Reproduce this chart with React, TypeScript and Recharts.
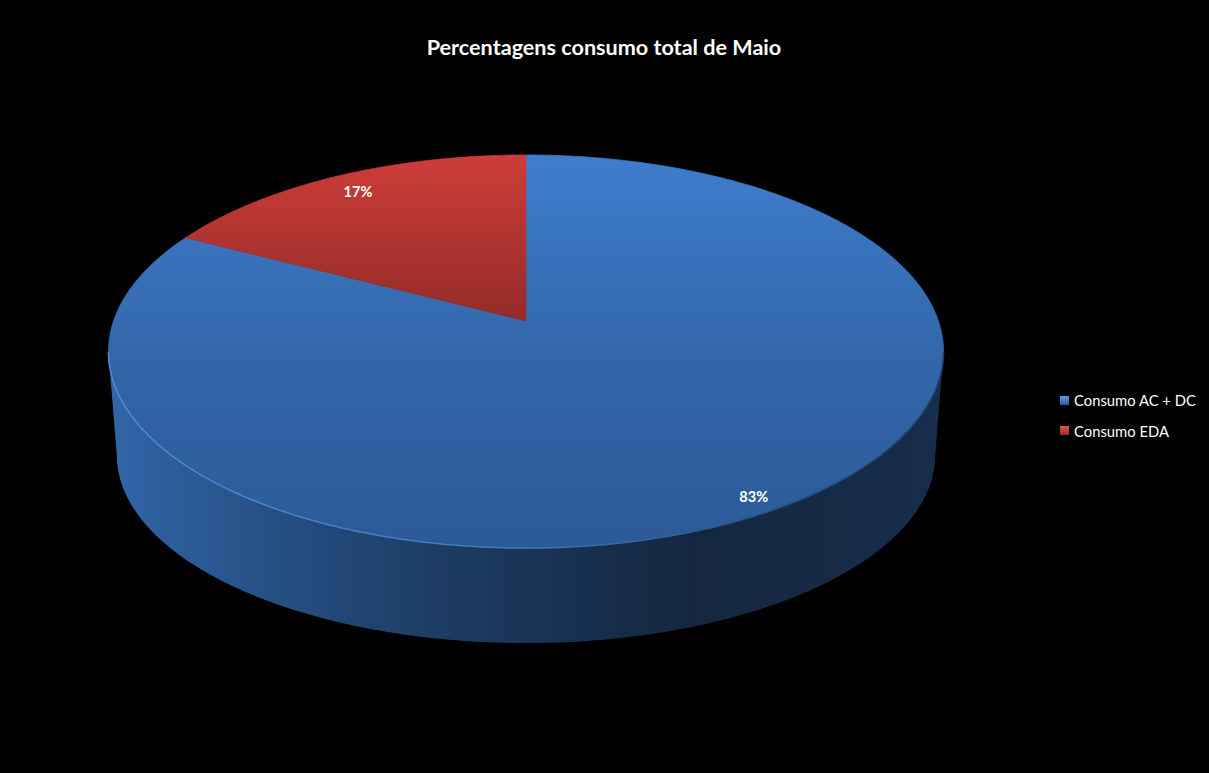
import { PieChart, Pie, Cell, Legend } from "recharts";

const categories = ["Consumo AC + DC", "Consumo EDA"];
const shares = [82.7, 17.3];
const data = categories.map((name, i) => ({ name, value: shares[i] }));

const topFills = ["url(#topBlue)", "url(#topRed)"];
const legendFills = [
  "linear-gradient(#5a9ae6, #2c5d9c)",
  "linear-gradient(#e65450, #962c29)",
];
const labelReach = [0.935, 0.88];

// perspective of the tilted disc
const TILT = 0.465;
const PERSP = -0.1552;
const FLOOR_SCALE_X = 0.98;
const FLOOR_SCALE_Y = 0.957;
const FLOOR_DROP = 104.8;

const project = (cx: number, cy: number, r: number, deg: number, k = 1) => {
  const a = (deg * Math.PI) / 180;
  const u = Math.cos(a) * k;
  const v = -Math.sin(a) * k;
  const d = 1 + PERSP * v;
  return { x: cx + (r * u) / d, y: cy + (r * TILT * v) / d };
};

const floorPoint = (cx: number, cy: number, r: number, deg: number) => {
  const a = (deg * Math.PI) / 180;
  const u = Math.cos(a);
  const v = -Math.sin(a);
  const d = 1 + PERSP * v;
  return {
    x: cx + (r * FLOOR_SCALE_X * u) / d,
    y: cy + FLOOR_DROP + (r * TILT * FLOOR_SCALE_Y * v) / d,
  };
};

const toPath = (pts: { x: number; y: number }[]) =>
  pts.map((p, i) => `${i ? "L" : "M"}${p.x.toFixed(1)} ${p.y.toFixed(1)}`).join(" ");

const DiscSlice = (props: any) => {
  const { cx, cy, outerRadius, startAngle, endAngle, fill } = props;
  const rim: { x: number; y: number }[] = [];
  const wallTop: { x: number; y: number }[] = [];
  const wallBottom: { x: number; y: number }[] = [];
  const lo = Math.min(startAngle, endAngle);
  const hi = Math.max(startAngle, endAngle);
  for (let deg = hi; deg > lo; deg -= 0.5) {
    rim.push(project(cx, cy, outerRadius, deg));
    // visible part of the side wall: the front of the disc, between its widest points
    const norm = ((deg % 360) + 360) % 360;
    if (norm >= 189 && norm <= 351) {
      wallTop.push(project(cx, cy, outerRadius, deg));
      wallBottom.push(floorPoint(cx, cy, outerRadius, deg));
    }
  }
  rim.push(project(cx, cy, outerRadius, lo));
  const top = `${toPath([{ x: cx, y: cy }, ...rim])} Z`;
  return (
    <g>
      {wallTop.length > 0 && (
        <path d={`${toPath([...wallTop, ...wallBottom.reverse()])} Z`} fill="url(#wall)" />
      )}
      <path d={top} fill={fill} stroke={fill} strokeWidth={0.7} />
      {wallTop.length > 0 && (
        <path d={toPath(wallTop)} fill="none" stroke="url(#rim)" strokeWidth={1.5} />
      )}
    </g>
  );
};

const sliceLabel = (props: any) => {
  const { cx, cy, outerRadius, midAngle, percent, index } = props;
  const p = project(cx, cy, outerRadius, midAngle, labelReach[index]);
  return (
    <text
      x={p.x}
      y={p.y}
      fill="#fff"
      textAnchor="middle"
      dominantBaseline="central"
      fontFamily="Lato"
      fontWeight={700}
      fontSize={14.6}
    >
      {`${Math.round(percent * 100)}%`}
    </text>
  );
};

const LegendList = () => (
  <div style={{ fontFamily: "Lato", fontSize: 14.8, color: "#fff" }}>
    {categories.map((name, i) => (
      <div key={name} style={{ display: "flex", alignItems: "center", height: 30.5 }}>
        <span
          style={{
            width: 9,
            height: 9,
            marginRight: 5,
            background: legendFills[i],
          }}
        />
        {name}
      </div>
    ))}
  </div>
);

export default function App() {
  return (
    <div style={{ position: "absolute", left: 0, top: 0, width: 1209, height: 773, background: "#000" }}>
      <PieChart width={1209} height={773} margin={{ top: 0, right: 0, bottom: 0, left: 0 }}>
        <defs>
          <linearGradient id="topBlue" gradientUnits="userSpaceOnUse" x1="0" y1="155" x2="0" y2="548">
            <stop offset="0" stopColor="#3e7dcd" />
            <stop offset="0.5" stopColor="#3367aa" />
            <stop offset="1" stopColor="#2b5a97" />
          </linearGradient>
          <linearGradient id="topRed" gradientUnits="userSpaceOnUse" x1="0" y1="155" x2="0" y2="321">
            <stop offset="0" stopColor="#cd3d39" />
            <stop offset="1" stopColor="#942b28" />
          </linearGradient>
          <linearGradient id="wall" gradientUnits="userSpaceOnUse" x1="110" y1="0" x2="940" y2="0">
            <stop offset="0" stopColor="#3166a8" />
            <stop offset="0.2" stopColor="#264f83" />
            <stop offset="0.42" stopColor="#1b3a60" />
            <stop offset="0.7" stopColor="#14273f" />
            <stop offset="1" stopColor="#172d4b" />
          </linearGradient>
          <linearGradient id="rim" gradientUnits="userSpaceOnUse" x1="110" y1="0" x2="940" y2="0">
            <stop offset="0" stopColor="#4f8ad6" />
            <stop offset="0.5" stopColor="#4277bc" />
            <stop offset="0.75" stopColor="#2a5589" />
            <stop offset="1" stopColor="#1e3e68" />
          </linearGradient>
        </defs>
        <text
          x={604}
          y={47}
          fill="#fff"
          textAnchor="middle"
          dominantBaseline="central"
          fontFamily="Lato"
          fontWeight={700}
          fontSize={21.6}
        >
          Percentagens consumo total de Maio
        </text>
        <Pie
          data={data}
          dataKey="value"
          nameKey="name"
          cx={526}
          cy={321}
          innerRadius={0}
          outerRadius={412.5}
          startAngle={90}
          endAngle={-270}
          stroke="none"
          shape={DiscSlice}
          label={sliceLabel}
          labelLine={false}
          isAnimationActive={false}
        >
          {data.map((d, i) => (
            <Cell key={d.name} fill={topFills[i]} />
          ))}
        </Pie>
        <Legend
          layout="vertical"
          align="right"
          verticalAlign="top"
          content={<LegendList />}
          wrapperStyle={{ left: 1060, right: "auto", top: 385, width: 149 }}
        />
      </PieChart>
    </div>
  );
}
